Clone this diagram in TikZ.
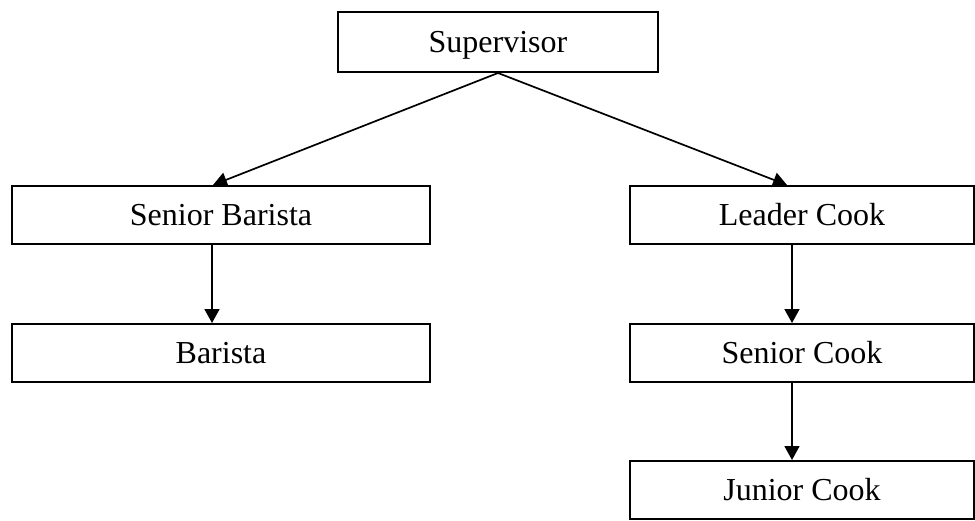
\documentclass[tikz,border=0pt]{standalone}
\usepackage{fontspec}
\setmainfont{Liberation Serif}
\usetikzlibrary{arrows.meta,calc}
\begin{document}
\begin{tikzpicture}[x=0.5pt,y=-0.5pt,
  box/.style={draw=black, line width=1pt, fill=white, inner sep=0pt,
    minimum height=29pt, text height=10.6pt, text depth=0pt,
    font=\fontsize{16pt}{19pt}\selectfont},
  conn/.style={draw=black, line width=0.85pt, -{Triangle[length=7pt,width=7.5pt]}}]
\useasboundingbox[fill=white] (0,0) rectangle (975,520);
\node[box, minimum width=160pt, minimum height=30pt] (sup) at (498,42) {Supervisor};
\node[box, minimum width=209pt] (sb) at (221,215) {Senior Barista};
\node[box, minimum width=209pt] (ba) at (221,353) {Barista};
\node[box, minimum width=172pt] (lc) at (802,215) {Leader Cook};
\node[box, minimum width=172pt] (sc) at (802,353) {Senior Cook};
\node[box, minimum width=172pt] (jc) at (802,490) {Junior Cook};
\draw[conn] (sup.south) -- ($(sb.north)+(-8,0)$);
\draw[conn] (sup.south) -- ($(lc.north)+(-15,0)$);
\draw[conn] ($(sb.south)+(-9,0)$) -- ($(ba.north)+(-9,0)$);
\draw[conn] ($(lc.south)+(-10,0)$) -- ($(sc.north)+(-10,0)$);
\draw[conn] ($(sc.south)+(-10,0)$) -- ($(jc.north)+(-10,0)$);
\end{tikzpicture}
\end{document}
